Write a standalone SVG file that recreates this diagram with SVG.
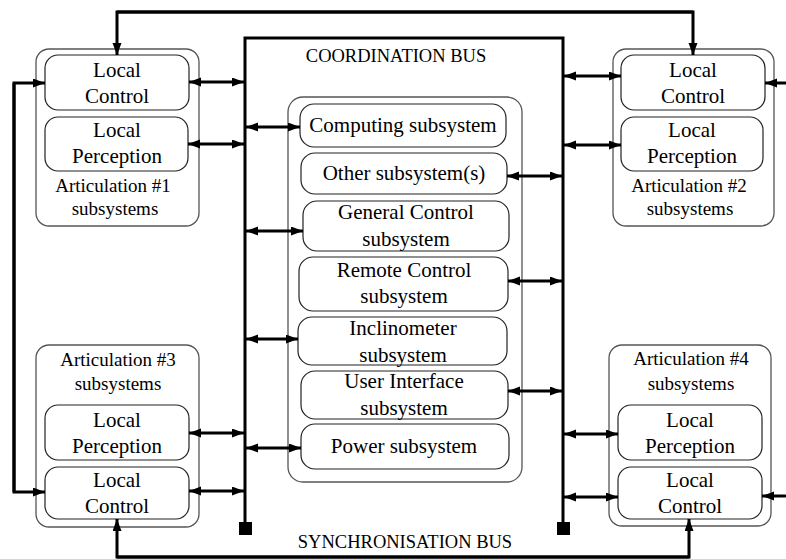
<svg xmlns="http://www.w3.org/2000/svg" width="786" height="559" viewBox="0 0 786 559">
<style>
  .outer{fill:none;stroke:#555;stroke-width:1.3}
  .box{fill:none;stroke:#222;stroke-width:1.2}
  text{font-family:'Liberation Serif','Times New Roman',serif;fill:#000;text-anchor:middle}
  .t{font-size:21px}
  .s{font-size:19px}
  .b{font-size:18.5px}
  .bus{fill:none;stroke:#000;stroke-width:3}
  .c{fill:none;stroke:#000;stroke-width:3}
  .bi{marker-start:url(#ah);marker-end:url(#ah)}
  .one{marker-end:url(#ah)}
</style>
<defs>
  <marker id="ah" markerUnits="userSpaceOnUse" markerWidth="13" markerHeight="10" refX="12" refY="4.5" orient="auto-start-reverse">
    <path d="M0,0 L12,4.5 L0,9 z" fill="#000"/>
  </marker>
</defs>
<rect width="786" height="559" fill="#fff"/>

<g id="coordination-bus">
  <path class="bus" d="M245,523 V38 H563 V523"/>
  <rect x="239" y="522" width="13" height="13" fill="#000"/>
  <rect x="557" y="522" width="13" height="13" fill="#000"/>
  <text class="b" x="396" y="62">COORDINATION BUS</text>
</g>
<g id="synchronisation-bus-label">
  <text class="b" x="405" y="548">SYNCHRONISATION BUS</text>
</g>

<g id="articulation1">
  <rect class="outer" x="36" y="49" width="163" height="177" rx="13"/>
  <g id="a1-local-control">
    <rect class="box" x="45" y="55" width="144" height="55" rx="13"/>
    <text class="t" x="117" y="77">Local</text>
    <text class="t" x="117" y="103">Control</text>
  </g>
  <g id="a1-local-perception">
    <rect class="box" x="45" y="117" width="143" height="54" rx="13"/>
    <text class="t" x="117" y="137">Local</text>
    <text class="t" x="117" y="163">Perception</text>
  </g>
  <text class="s" x="113" y="192">Articulation #1</text>
  <text class="s" x="115" y="215">subsystems</text>
</g>

<g id="articulation2">
  <rect class="outer" x="613" y="49" width="161" height="177" rx="13"/>
  <g id="a2-local-control">
    <rect class="box" x="621" y="55" width="144" height="55" rx="13"/>
    <text class="t" x="693" y="77">Local</text>
    <text class="t" x="693" y="103">Control</text>
  </g>
  <g id="a2-local-perception">
    <rect class="box" x="621" y="117" width="142" height="54" rx="13"/>
    <text class="t" x="692" y="137">Local</text>
    <text class="t" x="692" y="163">Perception</text>
  </g>
  <text class="s" x="689" y="192">Articulation #2</text>
  <text class="s" x="690" y="215">subsystems</text>
</g>

<g id="articulation3">
  <rect class="outer" x="36" y="345" width="163" height="182" rx="13"/>
  <text class="s" x="118" y="366">Articulation #3</text>
  <text class="s" x="118" y="390">subsystems</text>
  <g id="a3-local-perception">
    <rect class="box" x="45" y="405" width="144" height="55" rx="13"/>
    <text class="t" x="117" y="427">Local</text>
    <text class="t" x="117" y="453">Perception</text>
  </g>
  <g id="a3-local-control">
    <rect class="box" x="45" y="467" width="144" height="52" rx="13"/>
    <text class="t" x="117" y="487">Local</text>
    <text class="t" x="117" y="513">Control</text>
  </g>
</g>

<g id="articulation4">
  <rect class="outer" x="609" y="345" width="162" height="181" rx="13"/>
  <text class="s" x="691" y="365">Articulation #4</text>
  <text class="s" x="691" y="390">subsystems</text>
  <g id="a4-local-perception">
    <rect class="box" x="618" y="405" width="144" height="55" rx="13"/>
    <text class="t" x="690" y="427">Local</text>
    <text class="t" x="690" y="453">Perception</text>
  </g>
  <g id="a4-local-control">
    <rect class="box" x="618" y="467" width="144" height="52" rx="13"/>
    <text class="t" x="690" y="487">Local</text>
    <text class="t" x="690" y="513">Control</text>
  </g>
</g>

<g id="central-subsystems">
  <rect class="outer" x="288" y="97" width="234" height="385" rx="15"/>
  <g id="computing">
    <rect class="box" x="300" y="104" width="206" height="43" rx="14"/>
    <text class="t" x="403" y="132">Computing subsystem</text>
  </g>
  <g id="other">
    <rect class="box" x="301" y="153" width="206" height="41" rx="14"/>
    <text class="t" x="404" y="180">Other subsystem(s)</text>
  </g>
  <g id="general-control">
    <rect class="box" x="303" y="201" width="206" height="50" rx="14"/>
    <text class="t" x="406" y="219">General Control</text>
    <text class="t" x="406" y="246">subsystem</text>
  </g>
  <g id="remote-control">
    <rect class="box" x="299" y="257" width="209" height="54" rx="14"/>
    <text class="t" x="404" y="277">Remote Control</text>
    <text class="t" x="404" y="303">subsystem</text>
  </g>
  <g id="inclinometer">
    <rect class="box" x="298" y="317" width="209" height="48" rx="14"/>
    <text class="t" x="403" y="335">Inclinometer</text>
    <text class="t" x="403" y="362">subsystem</text>
  </g>
  <g id="user-interface">
    <rect class="box" x="301" y="371" width="207" height="48" rx="14"/>
    <text class="t" x="404" y="388">User Interface</text>
    <text class="t" x="404" y="415">subsystem</text>
  </g>
  <g id="power">
    <rect class="box" x="301" y="424" width="208" height="45" rx="14"/>
    <text class="t" x="404" y="453">Power subsystem</text>
  </g>
</g>

<g id="connectors">
  <path class="c one" d="M117,12 H693 V55"/>
  <path class="c one" d="M693,12 H117 V55"/>
  <path class="c one" d="M14,492 V83 H45"/>
  <path class="c one" d="M14,83 V492 H45"/>
  <path class="c one" d="M689,557 H117 V519"/>
  <path class="c one" d="M117,557 H689 V519"/>
  <path class="c one" d="M786,83 H765"/>
  <path class="c one" d="M786,496 H762"/>
  <line class="c bi" x1="189" y1="82" x2="244" y2="82"/>
  <line class="c bi" x1="188" y1="144" x2="244" y2="144"/>
  <line class="c bi" x1="189" y1="433" x2="244" y2="433"/>
  <line class="c bi" x1="189" y1="491" x2="244" y2="491"/>
  <line class="c bi" x1="564" y1="76" x2="621" y2="76"/>
  <line class="c bi" x1="564" y1="145" x2="621" y2="145"/>
  <line class="c bi" x1="564" y1="434" x2="618" y2="434"/>
  <line class="c bi" x1="564" y1="497" x2="618" y2="497"/>
  <line class="c bi" x1="246" y1="127" x2="300" y2="127"/>
  <line class="c bi" x1="246" y1="231" x2="303" y2="231"/>
  <line class="c bi" x1="246" y1="339" x2="298" y2="339"/>
  <line class="c bi" x1="246" y1="448" x2="301" y2="448"/>
  <line class="c bi" x1="507" y1="176" x2="562" y2="176"/>
  <line class="c bi" x1="508" y1="281" x2="562" y2="281"/>
  <line class="c bi" x1="508" y1="391" x2="562" y2="391"/>
</g>
</svg>
